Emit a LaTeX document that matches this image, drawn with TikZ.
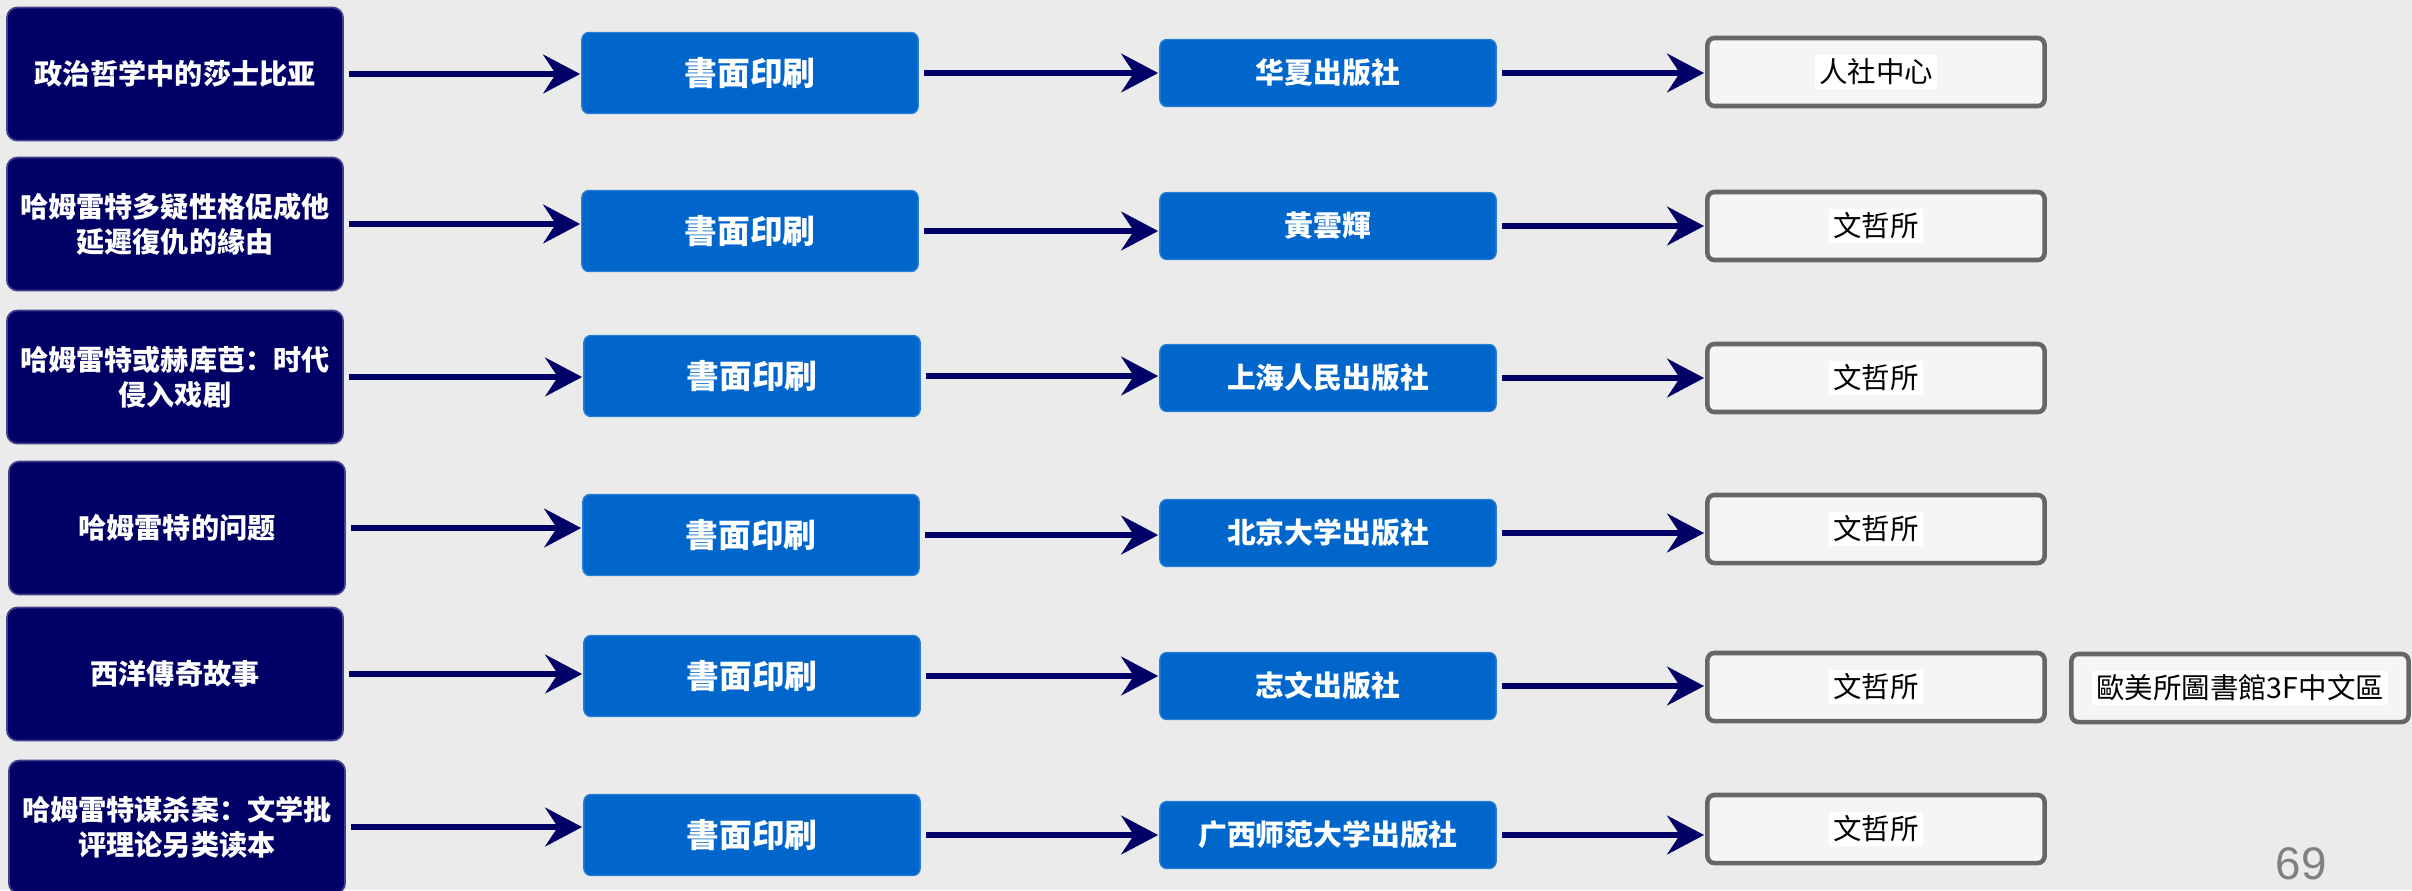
\documentclass[tikz,border=0pt]{standalone}
\usepackage{fontspec}
\setmainfont{Liberation Sans}
\newfontfamily\cjk{Noto Sans CJK SC}
\usetikzlibrary{arrows.meta}
\definecolor{navybox}{HTML}{000066}
\definecolor{bluebox}{HTML}{0066CC}
\definecolor{paper}{HTML}{EBEBEB}
\definecolor{framegray}{HTML}{666666}
\definecolor{locfill}{HTML}{F5F5F5}
\newcommand{\whitebg}[1]{{\setlength{\fboxsep}{1.2pt}\colorbox{white}{#1}}}
\begin{document}
\begin{tikzpicture}[x=0.01cm, y=-0.01cm,
    titlebox/.style={draw=navybox!75!white, fill=navybox, line width=0.5pt, rounded corners=3pt,
        text=white, font=\cjk\bfseries\fontsize{8}{10}\selectfont, align=center,
        minimum width=3.36cm, minimum height=1.33cm, inner sep=0pt},
    printbox/.style={draw=bluebox!85!white, fill=bluebox, line width=0.4pt, rounded corners=2pt,
        text=white, font=\cjk\bfseries\fontsize{9.3}{11}\selectfont,
        minimum width=3.36cm, minimum height=0.81cm, inner sep=0pt},
    pubbox/.style={printbox, minimum height=0.67cm, font=\cjk\bfseries\fontsize{8.2}{10}\selectfont},
    locbox/.style={draw=framegray, fill=locfill, line width=1.3pt, rounded corners=2pt,
        text=black, font=\cjk\fontsize{8.1}{10}\selectfont,
        minimum width=3.37cm, minimum height=0.68cm, inner sep=0pt},
    flow/.style={draw=navybox, line width=1.65pt, -{Stealth[length=10.5pt, width=11pt, inset=3.6pt]},
        shorten <=1.5pt, shorten >=0.3pt}]
    \useasboundingbox[fill=paper] (0,0) rectangle (2412,890);
    % row 1
    \node[titlebox] (t1) at (175,74) {政治哲学中的莎士比亚};
    \node[printbox] (p1) at (750,73) {書面印刷};
    \node[pubbox] (u1) at (1328,73) {华夏出版社};
    \node[locbox] (l1) at (1876,72) {\whitebg{人社中心}};
    % row 2
    \node[titlebox] (t2) at (175,224) {哈姆雷特多疑性格促成他\\延遲復仇的緣由};
    \node[printbox] (p2) at (750,231) {書面印刷};
    \node[pubbox] (u2) at (1328,226) {黃雲輝};
    \node[locbox] (l2) at (1876,226) {\whitebg{文哲所}};
    % row 3
    \node[titlebox] (t3) at (175,377) {哈姆雷特或赫库芭：时代\\侵入戏剧};
    \node[printbox] (p3) at (752,376) {書面印刷};
    \node[pubbox] (u3) at (1328,378) {上海人民出版社};
    \node[locbox] (l3) at (1876,378) {\whitebg{文哲所}};
    % row 4
    \node[titlebox] (t4) at (177,528) {哈姆雷特的问题};
    \node[printbox] (p4) at (751,535) {書面印刷};
    \node[pubbox] (u4) at (1328,533) {北京大学出版社};
    \node[locbox] (l4) at (1876,529) {\whitebg{文哲所}};
    % row 5
    \node[titlebox] (t5) at (175,674) {西洋傳奇故事};
    \node[printbox] (p5) at (752,676) {書面印刷};
    \node[pubbox] (u5) at (1328,686) {志文出版社};
    \node[locbox] (l5) at (1876,687) {\whitebg{文哲所}};
    \node[locbox] (x5) at (2240,688) {\whitebg{歐美所圖書館3F中文區}};
    % row 6
    \node[titlebox] (t6) at (177,827) {哈姆雷特谋杀案：文学批\\评理论另类读本};
    \node[printbox] (p6) at (752,835) {書面印刷};
    \node[pubbox] (u6) at (1328,835) {广西师范大学出版社};
    \node[locbox] (l6) at (1876,829) {\whitebg{文哲所}};

    \draw[flow] (t1.east) -- (p1.west |- t1.east);
    \draw[flow] (p1.east) -- (u1.west |- p1.east);
    \draw[flow] (u1.east) -- (l1.west |- u1.east);
    \draw[flow] (t2.east) -- (p2.west |- t2.east);
    \draw[flow] (p2.east) -- (u2.west |- p2.east);
    \draw[flow] (u2.east) -- (l2.west |- u2.east);
    \draw[flow] (t3.east) -- (p3.west |- t3.east);
    \draw[flow] (p3.east) -- (u3.west |- p3.east);
    \draw[flow] (u3.east) -- (l3.west |- u3.east);
    \draw[flow] (t4.east) -- (p4.west |- t4.east);
    \draw[flow] (p4.east) -- (u4.west |- p4.east);
    \draw[flow] (u4.east) -- (l4.west |- u4.east);
    \draw[flow] (t5.east) -- (p5.west |- t5.east);
    \draw[flow] (p5.east) -- (u5.west |- p5.east);
    \draw[flow] (u5.east) -- (l5.west |- u5.east);
    \draw[flow] (t6.east) -- (p6.west |- t6.east);
    \draw[flow] (p6.east) -- (u6.west |- p6.east);
    \draw[flow] (u6.east) -- (l6.west |- u6.east);

    \node[text=black!50, font=\fontsize{13}{13}\selectfont] (pg) at (2301,864) {69};
\end{tikzpicture}
\end{document}
